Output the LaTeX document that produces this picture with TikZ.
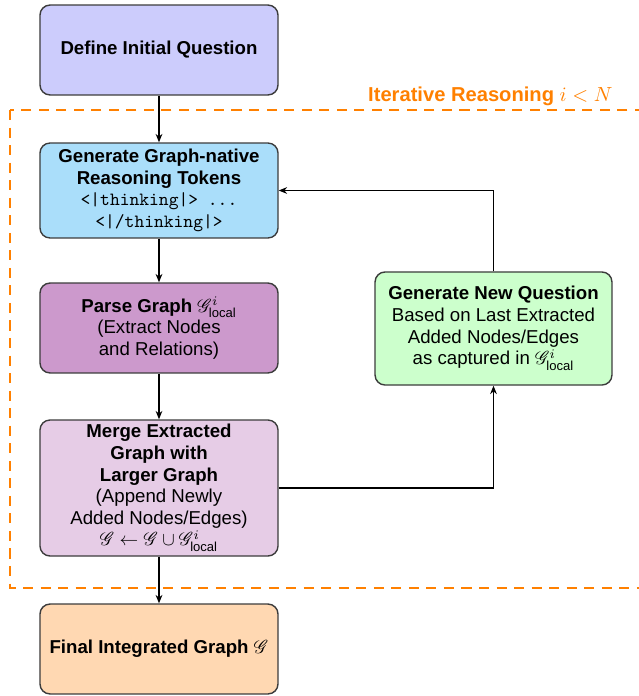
\documentclass[tikz,border=0pt]{standalone}
\usepackage{amsmath}
\usepackage{fontspec}
\setmainfont{Liberation Sans}
\usepackage{mathrsfs}
\usetikzlibrary{arrows.meta}
\newcommand{\GG}{\mathscr{G}}
\newcommand{\Gloc}{\mathscr{G}^{i}_{\text{local}}}
\definecolor{cLav}{RGB}{204,204,252}
\definecolor{cBlue}{RGB}{170,222,250}
\definecolor{cOrch}{RGB}{204,153,204}
\definecolor{cPink}{RGB}{230,204,230}
\definecolor{cPeach}{RGB}{255,216,178}
\definecolor{cGreen}{RGB}{204,255,204}
\definecolor{cOrange}{RGB}{255,128,0}
\definecolor{cBorder}{RGB}{60,60,60}
\tikzset{
  box/.style={draw=cBorder, line width=0.75pt, rounded corners=5.4pt, align=center,
    minimum width=127.6pt, inner sep=2pt,
    font=\fontsize{10pt}{11.6pt}\selectfont},
  conn/.style={-{Stealth[length=4.5pt,width=3.6pt]}, line width=0.6pt, black},
  iterbox/.style={draw=cOrange, line width=1.5pt, dash pattern=on 5.4pt off 4pt},
  iterlabel/.style={text=cOrange, font=\fontsize{10.8pt}{12pt}\selectfont\bfseries, inner sep=0pt}
}
\begin{document}
\begin{tikzpicture}[x=0.536pt,y=-0.536pt]
\clip (0,0) rectangle (639,696);
\draw[iterbox] (10,110) rectangle (700,588);
\node[iterlabel, anchor=base east] (lab) at (613,101) {Iterative Reasoning $i<N$};

\node[box, fill=cLav, minimum height=48.2pt] (q) at (159,50) {\textbf{Define Initial Question}};
\node[box, fill=cBlue, minimum height=50.9pt] (gen) at (159,190.5)
  {\textbf{Generate Graph-native}\\ \textbf{Reasoning Tokens}\\ \texttt{<|thinking|> ...}\\ \texttt{<|/thinking|>}};
\node[box, fill=cOrch, minimum height=48.2pt] (parse) at (159,328)
  {\textbf{Parse Graph} $\Gloc$\\ (Extract Nodes\\ and Relations)};
\node[box, fill=cPink, minimum height=72.9pt] (merge) at (159,488)
  {\textbf{Merge Extracted}\\ \textbf{Graph with}\\ \textbf{Larger Graph}\\ (Append Newly\\ Added Nodes/Edges)\\ $\GG \leftarrow \GG \cup \Gloc$};
\node[box, fill=cPeach, minimum height=48.2pt] (final) at (159,649)
  {\textbf{Final Integrated Graph} $\GG$};
\node[box, fill=cGreen, minimum width=127pt, minimum height=60.6pt] (newq) at (493.5,328.5)
  {\textbf{Generate New Question}\\ Based on Last Extracted\\ Added Nodes/Edges\\ as captured in $\Gloc$};

\draw[conn] (q) -- (gen);
\draw[conn] (gen) -- (parse);
\draw[conn] (parse) -- (merge);
\draw[conn] (merge) -- (final);
\draw[conn] (merge.east) -| (newq.south);
\draw[conn] (newq.north) |- (gen.east);
\end{tikzpicture}
\end{document}
